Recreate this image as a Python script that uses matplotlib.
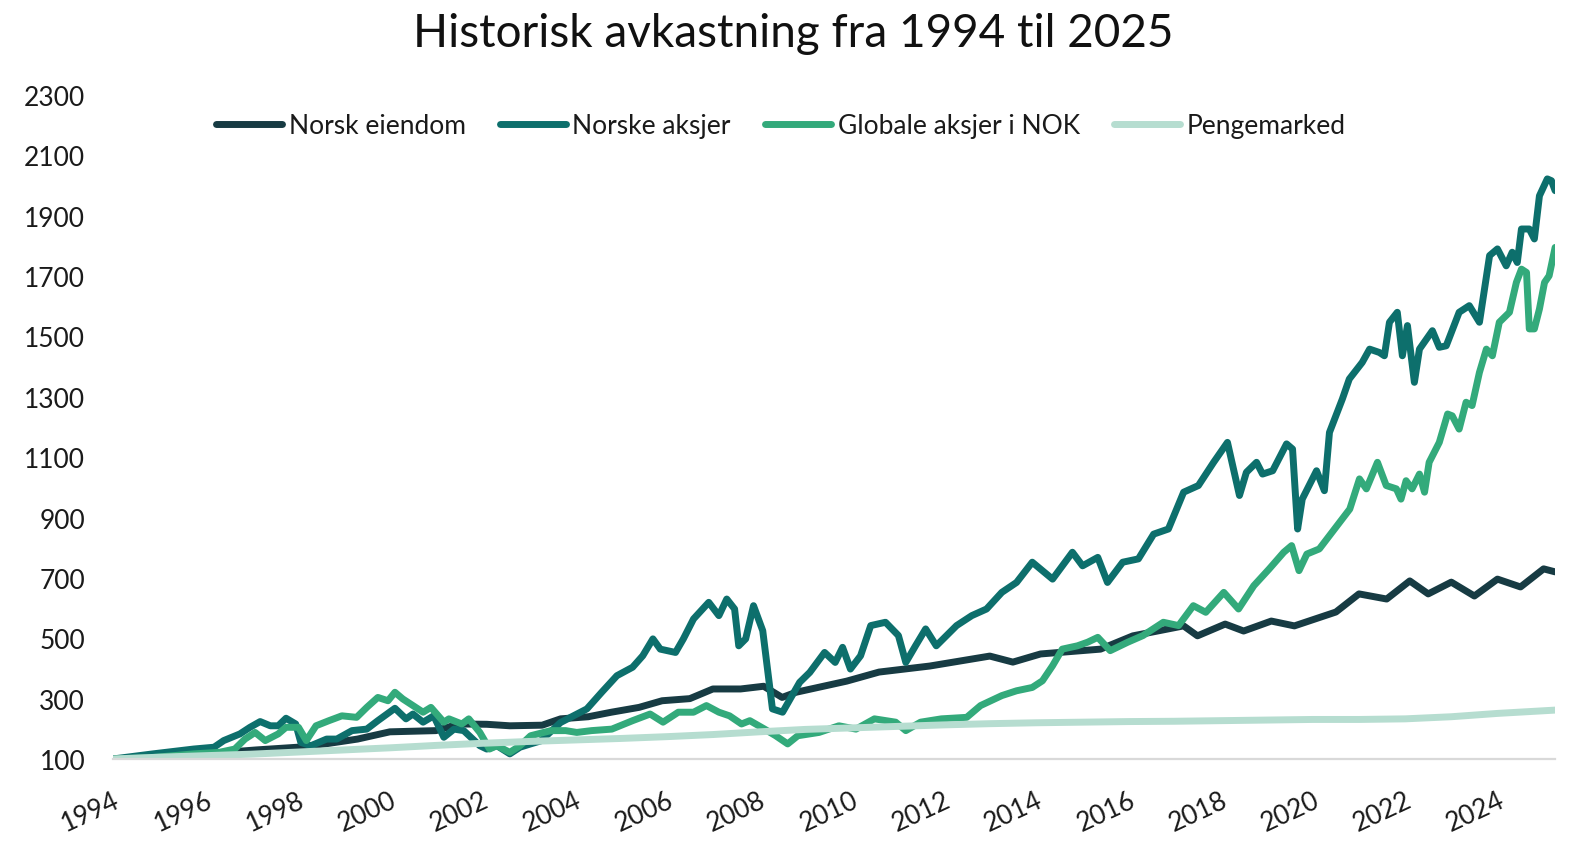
import matplotlib.pyplot as plt

# Verdier lest av figuren (indeks, start 1994 = 100)
eiendom_t = [1994.0, 1995.0, 1996.0, 1997.1, 1998.0, 1998.6, 1999.3, 2000.0, 2001.0, 2001.5,
             2002.1, 2002.6, 2003.3, 2003.7, 2004.3, 2004.8, 2005.4, 2005.9, 2006.5, 2007.0,
             2007.6, 2008.1, 2008.5, 2008.8, 2009.9, 2010.6, 2011.7, 2013.0, 2013.5, 2014.1,
             2015.4, 2016.1, 2017.2, 2017.5, 2018.1, 2018.5, 2019.1, 2019.6, 2020.5, 2021.0,
             2021.6, 2022.1, 2022.5, 2023.0, 2023.5, 2024.0, 2024.5, 2025.0, 2025.25]
eiendom_v = [100, 108, 117, 130, 139, 150, 166, 190, 194, 216,
             215, 210, 212, 233, 240, 255, 271, 293, 300, 332,
             332, 341, 304, 321, 358, 388, 408, 441, 421, 448,
             464, 508, 541, 508, 547, 524, 557, 541, 587, 647,
             630, 690, 647, 686, 640, 696, 670, 730, 720]

aksjer_t = [1994.0, 1994.87, 1995.75, 1996.19, 1996.4, 1996.75, 1996.97, 1997.19, 1997.41, 1997.58,
            1997.75, 1997.96, 1998.07, 1998.29, 1998.63, 1998.85, 1999.18, 1999.5, 1999.74, 2000.11,
            2000.35, 2000.5, 2000.72, 2000.95, 2001.17, 2001.39, 2001.6, 2001.95, 2002.1, 2002.32,
            2002.6, 2002.82, 2003.05, 2003.27, 2003.7, 2004.27, 2004.59, 2004.92, 2005.26, 2005.48,
            2005.7, 2005.86, 2006.19, 2006.36, 2006.58, 2006.91, 2007.13, 2007.3, 2007.47, 2007.56,
            2007.71, 2007.88, 2008.08, 2008.29, 2008.51, 2008.88, 2009.1, 2009.42, 2009.65, 2009.81,
            2009.98, 2010.2, 2010.42, 2010.74, 2011.02, 2011.18, 2011.39, 2011.61, 2011.84, 2012.28,
            2012.61, 2012.93, 2013.26, 2013.58, 2013.92, 2014.36, 2014.79, 2015.01, 2015.34, 2015.55,
            2015.88, 2016.22, 2016.55, 2016.87, 2017.2, 2017.52, 2017.85, 2018.15, 2018.41, 2018.56,
            2018.78, 2018.91, 2019.13, 2019.43, 2019.56, 2019.67, 2019.77, 2020.08, 2020.25, 2020.36,
            2020.64, 2020.79, 2021.07, 2021.23, 2021.44, 2021.55, 2021.66, 2021.83, 2021.94, 2022.05,
            2022.2, 2022.31, 2022.59, 2022.74, 2022.89, 2023.17, 2023.39, 2023.61, 2023.83, 2024.0,
            2024.19, 2024.32, 2024.43, 2024.52, 2024.69, 2024.8, 2024.91, 2025.08, 2025.17, 2025.25]
aksjer_v = [100, 117, 133, 139, 161, 183, 205, 224, 210, 210,
            235, 216, 155, 144, 166, 166, 194, 199, 227, 268,
            233, 249, 222, 243, 172, 199, 194, 144, 133, 144,
            117, 139, 150, 160, 221, 266, 321, 376, 404, 442,
            498, 464, 453, 498, 564, 619, 575, 630, 597, 475,
            498, 608, 525, 266, 255, 354, 387, 453, 420, 470,
            398, 442, 542, 553, 509, 420, 475, 531, 475, 542,
            575, 597, 652, 685, 752, 696, 785, 740, 768, 685,
            752, 763, 845, 862, 984, 1006, 1083, 1149, 973, 1050,
            1083, 1044, 1055, 1144, 1127, 862, 961, 1055, 989, 1182,
            1293, 1359, 1414, 1458, 1447, 1436, 1547, 1580, 1436, 1536,
            1348, 1458, 1519, 1464, 1469, 1580, 1602, 1547, 1768, 1790,
            1734, 1779, 1745, 1856, 1856, 1823, 1966, 2022, 2016, 1983]

globale_t = [1994.0, 1994.87, 1995.75, 1996.3, 1996.64, 1996.86, 1997.08, 1997.3, 1997.58, 1997.75,
             1998.02, 1998.19, 1998.4, 1998.68, 1998.96, 1999.28, 1999.5, 1999.74, 1999.96, 2000.11,
             2000.28, 2000.5, 2000.72, 2000.89, 2001.17, 2001.28, 2001.56, 2001.71, 2001.95, 2002.16,
             2002.32, 2002.6, 2002.82, 2003.05, 2003.49, 2003.81, 2004.05, 2004.37, 2004.81, 2005.26,
             2005.64, 2005.92, 2006.25, 2006.58, 2006.86, 2007.13, 2007.36, 2007.62, 2007.8, 2008.12,
             2008.36, 2008.62, 2008.84, 2009.3, 2009.73, 2010.1, 2010.5, 2010.96, 2011.18, 2011.5,
             2011.95, 2012.5, 2012.8, 2013.26, 2013.58, 2013.92, 2014.14, 2014.36, 2014.57, 2014.9,
             2015.12, 2015.34, 2015.61, 2015.99, 2016.32, 2016.76, 2017.09, 2017.41, 2017.68, 2018.07,
             2018.39, 2018.72, 2019.05, 2019.37, 2019.54, 2019.7, 2019.87, 2020.14, 2020.47, 2020.8,
             2021.01, 2021.16, 2021.4, 2021.59, 2021.81, 2021.91, 2022.02, 2022.15, 2022.31, 2022.42,
             2022.52, 2022.74, 2022.92, 2023.02, 2023.17, 2023.32, 2023.45, 2023.61, 2023.76, 2023.89,
             2024.04, 2024.26, 2024.41, 2024.52, 2024.63, 2024.69, 2024.8, 2024.91, 2025.02, 2025.12,
             2025.25]
globale_v = [100, 105, 117, 122, 133, 166, 188, 161, 183, 205,
             205, 161, 210, 227, 243, 238, 271, 304, 293, 321,
             299, 277, 255, 271, 222, 233, 216, 233, 188, 133,
             144, 122, 144, 177, 194, 194, 188, 194, 199, 227,
             249, 222, 255, 255, 277, 255, 243, 216, 227, 199,
             177, 150, 177, 188, 210, 199, 233, 222, 194, 222,
             233, 238, 277, 310, 326, 337, 359, 409, 464, 475,
             487, 503, 459, 487, 509, 553, 542, 608, 586, 652,
             597, 674, 729, 785, 807, 724, 779, 796, 862, 928,
             1028, 995, 1083, 1006, 995, 961, 1022, 995, 1044, 984,
             1083, 1149, 1243, 1237, 1193, 1282, 1271, 1381, 1458, 1436,
             1547, 1580, 1679, 1723, 1712, 1525, 1525, 1591, 1679, 1701,
             1795]

penge_t = [1994, 1995, 1996, 1997, 1998, 1999, 2000, 2001, 2002, 2003, 2004, 2005, 2006,
           2007, 2008, 2009, 2010, 2011, 2012, 2013, 2014, 2015, 2016, 2017, 2018, 2019,
           2020, 2021, 2022, 2023, 2024, 2025.25]
penge_v = [100, 106, 111, 116, 123, 130, 137, 145, 152, 158, 163, 168, 174,
           181, 190, 198, 203, 208, 213, 217, 220, 222, 224, 225, 227, 229,
           231, 231, 233, 240, 251, 262]

serier = [
    ('Norsk eiendom', eiendom_t, eiendom_v, '#173b43'),
    ('Norske aksjer', aksjer_t, aksjer_v, '#0d6f6c'),
    ('Globale aksjer i NOK', globale_t, globale_v, '#33aa7b'),
    ('Pengemarked', penge_t, penge_v, '#b6ddd0'),
]
x_ticks = list(range(1994, 2025, 2))
y_ticks = list(range(100, 2301, 200))

plt.rcParams['font.family'] = ['Lato', 'DejaVu Sans']

fig = plt.figure(figsize=(15.71, 8.45), dpi=100)
ax = fig.add_axes([0.0719, 0.1006, 0.918, 0.7858])

for navn, t, v, farge in serier:
    ax.plot(t, v, color=farge, lw=5, label=navn,
            solid_joinstyle='round', solid_capstyle='round')

ax.set_xlim(1994, 2025.25)
ax.set_ylim(100, 2300)
ax.set_xticks(x_ticks)
ax.set_xticklabels([str(a) for a in x_ticks], rotation=25, ha='right',
                   va='top', rotation_mode='anchor')
ax.set_yticks(y_ticks)
ax.tick_params(axis='both', length=0, labelsize=19, labelcolor='#1a1a1a')
ax.tick_params(axis='y', pad=20)
ax.tick_params(axis='x', pad=20)

for s in ['top', 'right', 'left']:
    ax.spines[s].set_visible(False)
ax.spines['bottom'].set_color('#d9d9d9')
ax.spines['bottom'].set_linewidth(1.6)

fig.text(0.505, 0.944, 'Historisk avkastning fra 1994 til 2025', ha='center',
         va='baseline', fontsize=33, color='#111111')

fig.legend(loc='center', bbox_to_anchor=(0.497, 0.850), ncol=4, frameon=False,
           prop={'size': 19}, handlelength=2.5, handletextpad=0.25,
           columnspacing=1.3, labelcolor='#1a1a1a')

fig.savefig('out.png', dpi=100)
